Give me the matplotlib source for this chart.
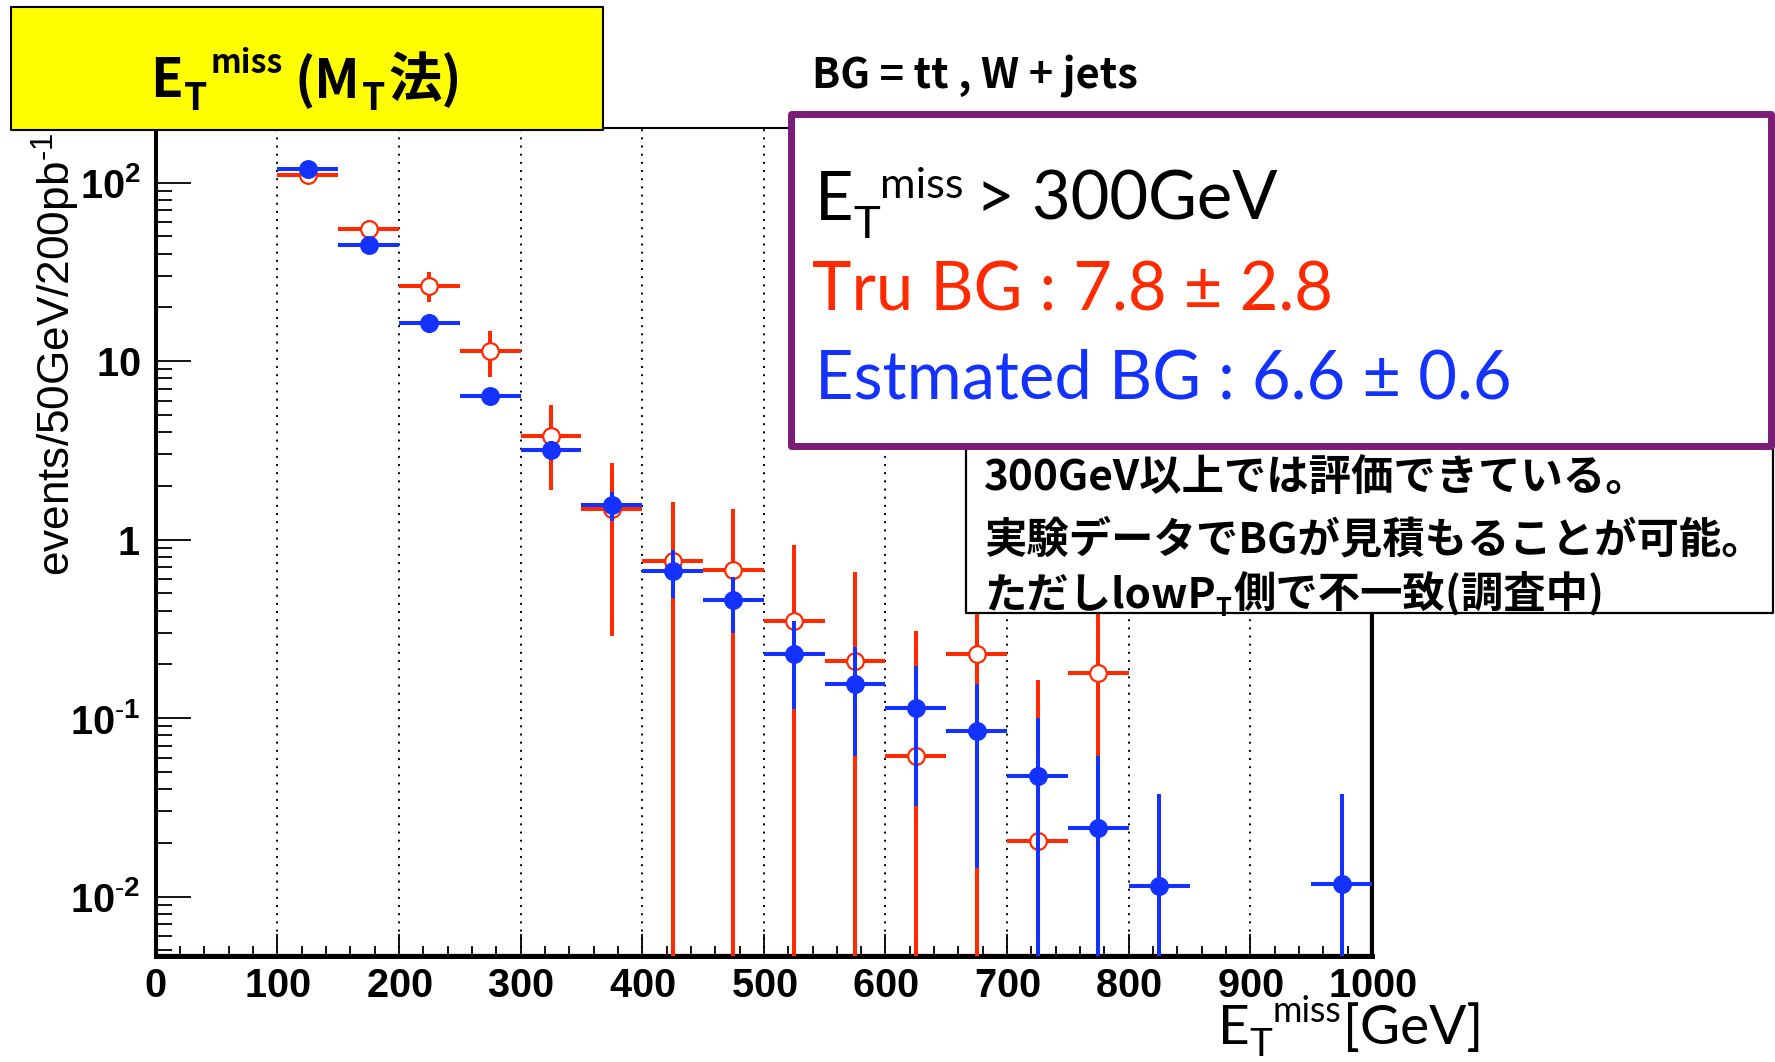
import numpy as np
import matplotlib
matplotlib.use('Agg')
import matplotlib.pyplot as plt
from matplotlib.patches import Rectangle
from matplotlib.ticker import FixedLocator, LogLocator, FuncFormatter, NullFormatter

plt.rcParams['mathtext.fontset'] = 'custom'
plt.rcParams['mathtext.rm'] = 'Liberation Sans'
plt.rcParams['mathtext.bf'] = 'Liberation Sans:bold'
plt.rcParams['font.family'] = ['Liberation Sans', 'DejaVu Sans']

W, H, DPI = 1775, 1062, 100

# --- データ (ビン中心 [GeV], 50GeV 幅) ---
tru_x = [125, 175, 225, 275, 325, 375, 425, 475, 525, 575, 625, 675, 725, 775]
tru_y = [110, 54.8, 26.4, 11.4, 3.79, 1.49, 0.755, 0.673, 0.352, 0.208, 0.0617, 0.230, 0.0206, 0.180]
tru_err = [10, 7, 5, 3.3, 1.9, 1.2, 0.86, 0.81, 0.585, 0.45, 0.245, 0.33, 0.142, 0.30]

est_x = [125, 175, 225, 275, 325, 375, 425, 475, 525, 575, 625, 675, 725, 775, 825, 975]
est_y = [119, 44.9, 16.4, 6.37, 3.17, 1.556, 0.670, 0.458, 0.230, 0.156, 0.114, 0.0845, 0.0471, 0.0243, 0.0114, 0.0118]
est_err = [5, 3, 2, 0.6, 0.38, 0.29, 0.2, 0.16, 0.118, 0.095, 0.082, 0.07, 0.053, 0.037, 0.026, 0.026]

bin_half = 25
x_ticks = np.arange(0, 1001, 100)

RED = '#ff2a00'
BLUE = '#1432ff'
PURPLE = '#7a1c78'
JP = ['Noto Sans CJK JP', 'DejaVu Sans']
LAT = ['Lato', 'Noto Sans CJK JP', 'DejaVu Sans']


def fx(x):
    return x / W


def fy(y):
    return 1 - y / H


fig = plt.figure(figsize=(W / DPI, H / DPI), dpi=DPI)
ax = fig.add_axes([fx(155.7), fy(956), fx(1372) - fx(155.7), fy(127.7) - fy(956)])
ax.set_yscale('log')
ax.set_xlim(0, 1000)
ax.set_ylim(4.65e-3, 203)

# 点線のグリッド
for gx in x_ticks[1:-1]:
    ax.axvline(gx, color='k', lw=1.4, ls=(0, (1, 3.2)), zorder=1)


def draw(x, y, err, color, face, z):
    x = np.asarray(x, float)
    y = np.asarray(y, float)
    e = np.asarray(err, float)
    lo = np.where(y - e > 0, e, y - 1e-6)
    ax.errorbar(x, y, yerr=[lo, e], xerr=bin_half, fmt='o', color=color,
                mfc=face, mec=color, ms=12, mew=1.6, elinewidth=2.9,
                capsize=0, zorder=z)


draw(tru_x, tru_y, tru_err, RED, 'white', 3)
draw(est_x, est_y, est_err, BLUE, BLUE, 4)

# 枠の内側の赤線
ax.axhline(4.75e-3, color=RED, lw=1.0, zorder=2)
ax.axvline(998.5, color=RED, lw=1.0, zorder=2)

for s, lw in [('left', 2.9), ('bottom', 3.6), ('right', 2.9), ('top', 1.5)]:
    ax.spines[s].set_linewidth(lw)

ax.xaxis.set_major_locator(FixedLocator(x_ticks))
ax.xaxis.set_minor_locator(FixedLocator(np.arange(0, 1001, 20)))
ax.yaxis.set_major_locator(LogLocator(base=10, numticks=20))
ax.yaxis.set_minor_locator(LogLocator(base=10, subs=np.arange(2, 10), numticks=20))
ax.yaxis.set_minor_formatter(NullFormatter())


def ylab(v, pos):
    e = int(round(np.log10(v)))
    if e == 0:
        return r'$\mathbf{1}$'
    if e == 1:
        return r'$\mathbf{10}$'
    if e < 0:
        return r'$\mathbf{10^{\text{-}%d}}$' % -e
    return r'$\mathbf{10^{%d}}$' % e


ax.yaxis.set_major_formatter(FuncFormatter(ylab))
ax.xaxis.set_major_formatter(FuncFormatter(lambda v, p: r'$\mathbf{%d}$' % v))

ax.tick_params(which='both', direction='in', top=False, right=False, width=1.3, color='k')
ax.tick_params(axis='x', which='major', length=15.6, pad=8, labelsize=28.5)
ax.tick_params(axis='x', which='minor', length=7.2)
ax.tick_params(axis='y', which='major', length=25, pad=11, labelsize=28.5)
ax.tick_params(axis='y', which='minor', length=11.5)

fig.text(fx(56), fy(133), r'events/50GeV/200pb$^{\text{-}1}$', rotation=90, ha='center',
         va='top', fontsize=31.8, family=['Liberation Sans'])


# --- 枠 ---
def box(x0, y0, x1, y1, fc, ec, lw, z):
    r = Rectangle((fx(x0), fy(y1)), fx(x1) - fx(x0), fy(y0) - fy(y1),
                  transform=fig.transFigure, fc=fc, ec=ec, lw=lw, zorder=z,
                  joinstyle='round')
    fig.add_artist(r)


box(11, 7, 603, 130, '#ffff00', 'k', 1.5, 10)
box(966, 440, 1773, 613, 'white', 'k', 1.6, 11)
box(791, 114, 1771, 446, 'white', PURPLE, 5, 12)

renderer = fig.canvas.get_renderer()


def put(x, base, parts, size, family, weight, color):
    texts = []
    for s, sc, dy, gap in parts:
        x += gap
        t = fig.text(fx(x), fy(base + dy), s, fontsize=size * sc, ha='left',
                     va='baseline', family=family, weight=weight, color=color,
                     zorder=13)
        x += t.get_window_extent(renderer).width
        texts.append(t)
    return x, texts


def rich(x, base, parts, width, family=JP, weight='normal', color='k'):
    # parts: (文字列, 倍率, 縦ずれpx, 前の隙間px); 全体の幅を width に合わせる
    end, texts = put(x, base, parts, 30, family, weight, color)
    for t in texts:
        t.remove()
    size = 30 * width / (end - x)
    put(x, base, parts, size, family, weight, color)
    return size


rich(150, 96.7, [('E', 1, 0, 0), ('T', .7, 13, 1), ('miss', .6, -24, 3),
                 ('(M', 1, 0, 12), ('T', .7, 13, 2), ('法)', 1, 0, 3)],
     318, weight='bold')

rich(812, 88.3, [('BG = tt , W + jets', 1, 0, 0)], 326, weight='bold')

s_box = rich(815, 398.3, [('Estmated BG : 6.6 ± 0.6', 1, 0, 0)], 695,
             family=LAT, color=BLUE)
put(812, 310.7, [('Tru BG : 7.8 ± 2.8', 1, 0, 0)], s_box, LAT, 'normal', RED)
put(815, 220, [('E', 1, 0, 0), ('T', .68, 18, 0), ('miss', .65, -22, 0),
               ('> 300GeV', 1, 0, 12)], s_box, LAT, 'normal', 'k')

s_jp = rich(984, 552, [('実験データでBGが見積もることが可能。', 1, 0, 0)], 778, weight='bold')
put(984, 490, [('300GeV以上では評価できている。', 1, 0, 0)], s_jp, JP, 'bold', 'k')
put(984, 607, [('ただしlowP', 1, 0, 0), ('T', .6, 9, 0), ('側で不一致(調査中)', 1, 0, 2)],
    s_jp, JP, 'bold', 'k')

rich(1218, 1044, [('E', 1, 0, 0), ('T', .7, 12, 0), ('miss', .65, -22, 0),
                  ('[GeV]', 1, 0, 2)], 266, family=LAT)

fig.savefig('out.png', dpi=DPI)
